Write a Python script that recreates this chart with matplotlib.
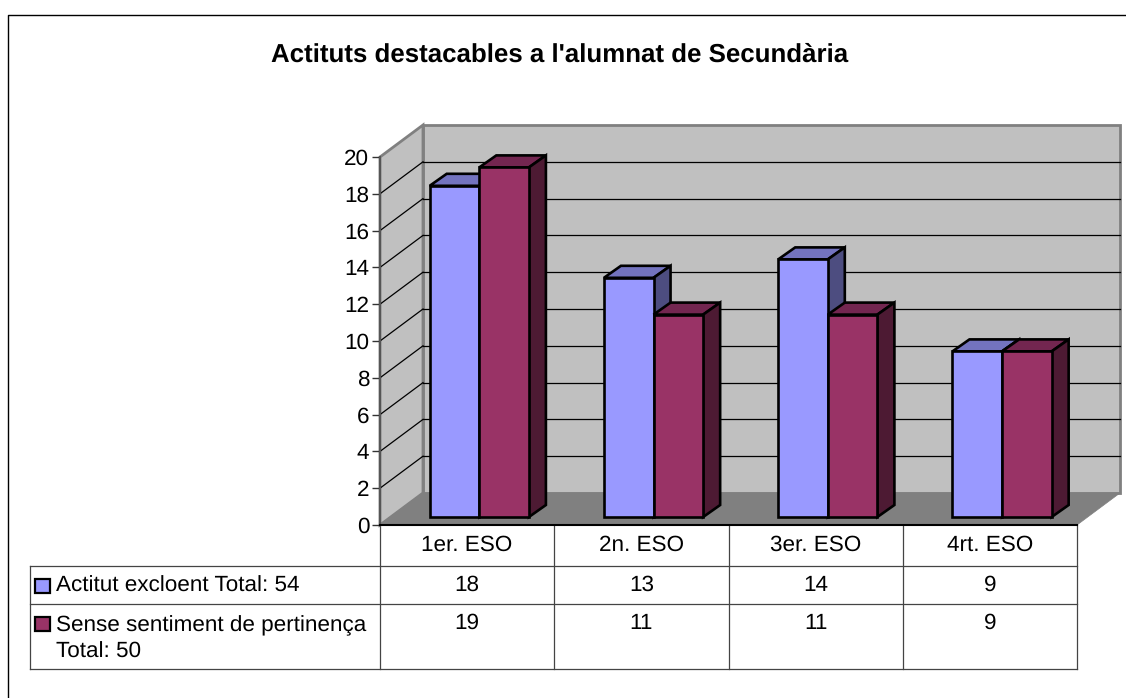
import matplotlib
matplotlib.use("Agg")
import matplotlib.pyplot as plt
from matplotlib.patches import Polygon, Rectangle

plt.rcParams['font.family'] = ['Liberation Sans', 'DejaVu Sans']
plt.rcParams['text.hinting'] = 'no_hinting'

# --- Dades ---
categories = ["1er. ESO", "2n. ESO", "3er. ESO", "4rt. ESO"]
actitut = [18, 13, 14, 9]
sentiment = [19, 11, 11, 9]
series_names = ["Actitut excloent Total: 54", "Sense sentiment de pertinença\nTotal: 50"]
y_ticks = list(range(0, 21, 2))
title = "Actituts destacables a l'alumnat de Secundària"

# colors: front, top, side
blue = ("#9999FF", "#7373BF", "#4D4D80")
wine = ("#993366", "#732650", "#4D1A33")
WALL = "#C0C0C0"
FLOOR = "#808080"
EDGE = "#808080"

W, H = 1126, 698
X0, X1, Y0, Y20 = 380, 1077, 525, 157
cat_px = (X1 - X0) / len(categories)
val_px = (Y0 - Y20) / 20

# depth of the box and of the bars, expressed in data units
DX = 43 / cat_px
DY = 32 / val_px
BAR_DX = 17 / cat_px
BAR_DY = 12 / val_px
BAR_LIFT = 8 / val_px
BAR_LEFT = 49.7 / cat_px
BAR_W = 49.6 / cat_px

fig = plt.figure(figsize=(W / 100, H / 100), dpi=100)

# overlay in pixels for the frame and the table
px = fig.add_axes([0, 0, 1, 1], zorder=0)
px.set_xlim(0, W)
px.set_ylim(H, 0)
px.axis("off")
px.plot([8, 8, W], [H, 15, 15], color="black", lw=1.0, clip_on=False)
px.text(560, 55.5, title, ha="center", va="center", fontsize=18.6, fontweight="bold")

ax = fig.add_axes([X0 / W, 1 - Y0 / H, (X1 - X0) / W, (Y0 - Y20) / H], zorder=1)
ax.patch.set_visible(False)
ax.set_xlim(0, len(categories))
ax.set_ylim(0, 20)


def poly(points, face, edge="black", lw=1.0, z=1):
    ax.add_patch(Polygon(points, closed=True, facecolor=face, edgecolor=edge, linewidth=lw,
                         joinstyle="miter", zorder=z, clip_on=False))


n = len(categories)
# walls and floor
poly([(DX, DY), (n + DX, DY), (n + DX, 20 + DY), (DX, 20 + DY)], WALL, EDGE, 2.0, 1)
poly([(0, 0), (0, 20), (DX, 20 + DY), (DX, DY)], WALL, EDGE, 2.0, 1)
for v in y_ticks[1:-1]:
    ax.plot([DX, n + DX], [v + DY, v + DY], color="black", lw=0.9, zorder=2, clip_on=False)
    ax.plot([0, DX], [v, v + DY], color="black", lw=0.9, zorder=2, clip_on=False)
poly([(0, 0), (DX, DY), (n + DX, DY), (n, 0)], FLOOR, FLOOR, 0.5, 3)


def draw_bar(left, value, colors, z):
    bottom = BAR_LIFT
    top = value + BAR_LIFT
    right = left + BAR_W
    poly([(left, top), (right, top), (right + BAR_DX, top + BAR_DY), (left + BAR_DX, top + BAR_DY)],
         colors[1], "black", 1.9, z)
    poly([(right, bottom), (right + BAR_DX, bottom + BAR_DY), (right + BAR_DX, top + BAR_DY), (right, top)],
         colors[2], "black", 1.9, z)
    ax.bar(left, value, width=BAR_W, bottom=bottom, align="edge", facecolor=colors[0],
           edgecolor="black", linewidth=1.9, zorder=z, clip_on=False)


for i in range(n):
    draw_bar(i + BAR_LEFT, actitut[i], blue, 4 + i * 2)
    draw_bar(i + BAR_LEFT + BAR_W, sentiment[i], wine, 5 + i * 2)

ax.set_yticks(y_ticks)
ax.set_xticks([])
ax.tick_params(axis="y", length=5.8, width=1.0, color="#333333", labelsize=16.2, pad=2.0)
for s in ("top", "right"):
    ax.spines[s].set_visible(False)
ax.spines["left"].set_color("#555555")
ax.spines["left"].set_linewidth(1.5)
ax.spines["left"].set_zorder(3)
ax.spines["bottom"].set_color("black")
ax.spines["bottom"].set_linewidth(1.5)
ax.spines["bottom"].set_zorder(3)

# --- Taula de dades ---
LINE = "#444444"
TABLE_L = 30
ROWS = [525, 566, 603.5, 669]
COLS = [X0 + i * cat_px for i in range(n + 1)]
for c in COLS:
    px.plot([c, c], [ROWS[0], ROWS[-1]], color=LINE, lw=0.9)
px.plot([TABLE_L, TABLE_L], [ROWS[1], ROWS[-1]], color=LINE, lw=0.9)
for r in ROWS[1:]:
    px.plot([TABLE_L, X1], [r, r], color=LINE, lw=0.9)

FS = 16.2
for i, cat in enumerate(categories):
    xc = (COLS[i] + COLS[i + 1]) / 2
    px.text(xc, 545.5, cat, ha="center", va="center", fontsize=FS)
    px.text(xc, 585.5, str(actitut[i]), ha="center", va="center", fontsize=FS)
    px.text(xc, 623, str(sentiment[i]), ha="center", va="center", fontsize=FS)

px.add_patch(Rectangle((35, 579), 15, 14, facecolor=blue[0], edgecolor="black", lw=1.6))
px.add_patch(Rectangle((35, 617), 15, 14, facecolor=wine[0], edgecolor="black", lw=1.6))
px.text(56, 586, series_names[0], ha="left", va="center", fontsize=FS)
line1, line2 = series_names[1].split("\n")
px.text(56, 625.5, line1, ha="left", va="center", fontsize=FS)
px.text(56, 652, line2, ha="left", va="center", fontsize=FS)

fig.savefig("out.png", dpi=100, facecolor="white")
